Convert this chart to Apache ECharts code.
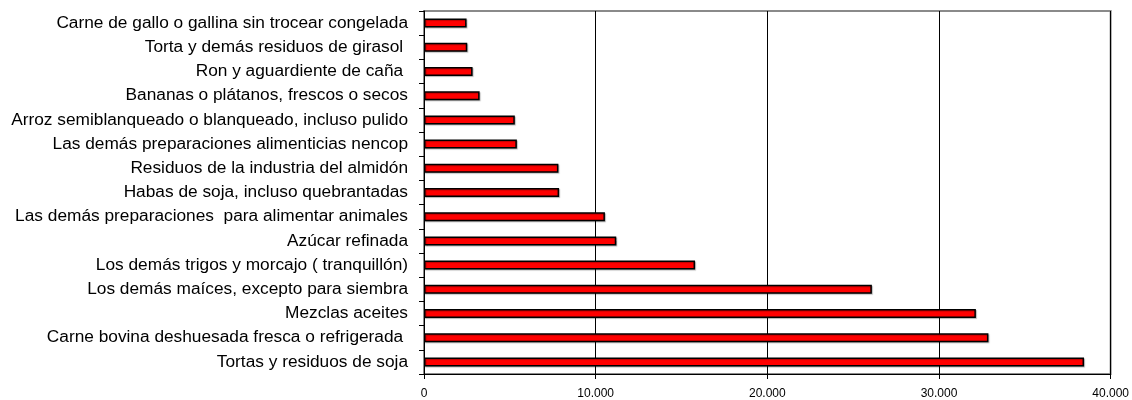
<!DOCTYPE html>
<html>
<head>
<meta charset="utf-8">
<script src="https://cdn.jsdelivr.net/npm/echarts@6/dist/echarts.min.js"></script>
<style>
html,body{margin:0;padding:0;background:#fff;}
#chart{width:1132px;height:400px;}
</style>
</head>
<body>
<div id="chart"></div>
<script>
const categories = [
  "Tortas y residuos de soja",
  "Carne bovina deshuesada fresca o refrigerada ",
  "Mezclas aceites",
  "Los demás maíces, excepto para siembra",
  "Los demás trigos y morcajo ( tranquillón)",
  "Azúcar refinada",
  "Las demás preparaciones  para alimentar animales",
  "Habas de soja, incluso quebrantadas",
  "Residuos de la industria del almidón",
  "Las demás preparaciones alimenticias nencop",
  "Arroz semiblanqueado o blanqueado, incluso pulido",
  "Bananas o plátanos, frescos o secos",
  "Ron y aguardiente de caña ",
  "Torta y demás residuos de girasol ",
  "Carne de gallo o gallina sin trocear congelada"
];
const values = [38450, 32880, 32150, 26090, 15790, 11200, 10540, 7870, 7830, 5410, 5290, 3240, 2830, 2520, 2480];
const xTicks = [0, 10000, 20000, 30000, 40000];

function fmt(v){
  return String(v).replace(/\B(?=(\d{3})+(?!\d))/g, ".");
}

const chart = echarts.init(document.getElementById('chart'), null, {renderer:'canvas'});
chart.setOption({
  animation:false,
  grid:{left:424, right:21, top:11, bottom:26, show:true, borderColor:'#8a8a8a', borderWidth:2, backgroundColor:'transparent'},
  xAxis:{
    type:'value', min:xTicks[0], max:xTicks[xTicks.length-1], interval:10000,
    axisLine:{show:true, lineStyle:{color:'#000', width:1}},
    axisTick:{show:true, length:5, lineStyle:{color:'#000'}},
    axisLabel:{color:'#000', fontFamily:'Liberation Sans, Arial, sans-serif', fontSize:12, margin:14, formatter:fmt},
    splitLine:{show:true, lineStyle:{color:'#000', width:1}}
  },
  yAxis:{
    type:'category', data:categories,
    axisLine:{show:true, lineStyle:{color:'#000', width:1}},
    axisTick:{show:true, length:5, lineStyle:{color:'#000'}},
    axisLabel:{color:'#000', fontFamily:'Liberation Sans, Arial, sans-serif', fontSize:17.3, margin:16}
  },
  series:[{
    type:'bar', data:values, barWidth:9,
    itemStyle:{color:'#ff0000', borderColor:'#000', borderWidth:1.5,
      shadowColor:'rgba(0,0,0,0.25)', shadowOffsetX:1, shadowOffsetY:1, shadowBlur:1}
  }]
});
</script>
</body>
</html>
